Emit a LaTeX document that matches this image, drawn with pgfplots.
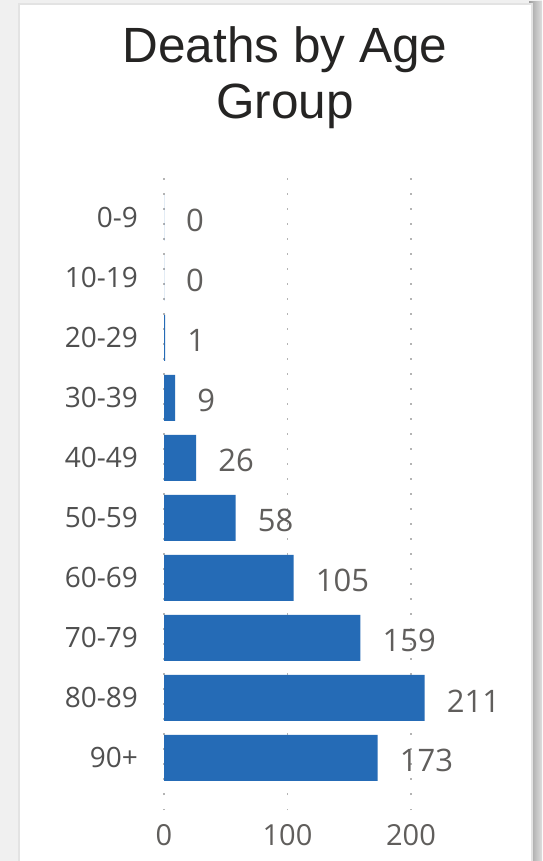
\documentclass[border=0pt]{standalone}
\usepackage{fontspec}
\setmainfont{Open Sans}
\newfontfamily\titlefont{Liberation Sans}
\usepackage{pgfplots}
\usepackage{pgfplotstable}
\pgfplotsset{compat=1.18}
\definecolor{barblue}{HTML}{256BB6}
\definecolor{titlegray}{HTML}{252423}
\definecolor{catgray}{HTML}{505050}
\definecolor{valgray}{HTML}{605E5C}
\definecolor{gridgray}{HTML}{B4B4B4}
% pos = vertical slot (9 = top row), value = deaths
\pgfplotstableread{
pos value
9 0
8 0
7 1
6 9
5 26
4 58
3 105
2 159
1 211
0 173
}\deaths
\begin{document}
\begin{tikzpicture}
\path[use as bounding box] (0,0) rectangle (542pt,861pt);
\fill[gray!12] (0,0) rectangle (542pt,861pt);
\shade[left color=gray!75, right color=gray!25] (529pt,0) rectangle (542pt,859pt);
\fill[gray!22] (18pt,0) rectangle (533pt,858pt);
\fill[white] (20pt,0) rectangle (531pt,856pt);
\node[font=\titlefont\fontsize{49.5}{56}\selectfont, text=titlegray, align=center, anchor=north, inner sep=0pt] at (285pt,835pt) {Deaths by Age\\Group};
\begin{axis}[
  at={(164pt,51pt)}, anchor=south west,
  scale only axis, width=308.75pt, height=642pt,
  xbar, bar width=46pt,
  xmin=0, xmax=250, ymin=-0.87, ymax=9.83,
  ytick={0,...,9},
  yticklabels={90+,80-89,70-79,60-69,50-59,40-49,30-39,20-29,10-19,0-9},
  xtick={0,100,200},
  axis line style={draw=none}, major tick length=0pt,
  xmajorgrids, ymajorgrids=false,
  major grid style={gridgray, line width=1.5pt, dash pattern=on 1.5pt off 13.5pt},
  /pgf/number format/assume math mode=true,
  yticklabel style={font=\fontsize{28}{28}\selectfont, text=catgray, anchor=east, inner sep=0pt, xshift=-26pt},
  xticklabel style={font=\fontsize{29}{29}\selectfont, text=valgray, anchor=center, inner sep=0pt, yshift=-25pt},
  clip=false,
  nodes near coords,
  nodes near coords style={font=\fontsize{31}{31}\selectfont, text=valgray, anchor=west, inner sep=0pt, xshift=22pt, yshift=-3pt},
]
\addplot[fill=barblue, draw=none] table[x=value, y=pos] {\deaths};
\end{axis}
\end{tikzpicture}
\end{document}
